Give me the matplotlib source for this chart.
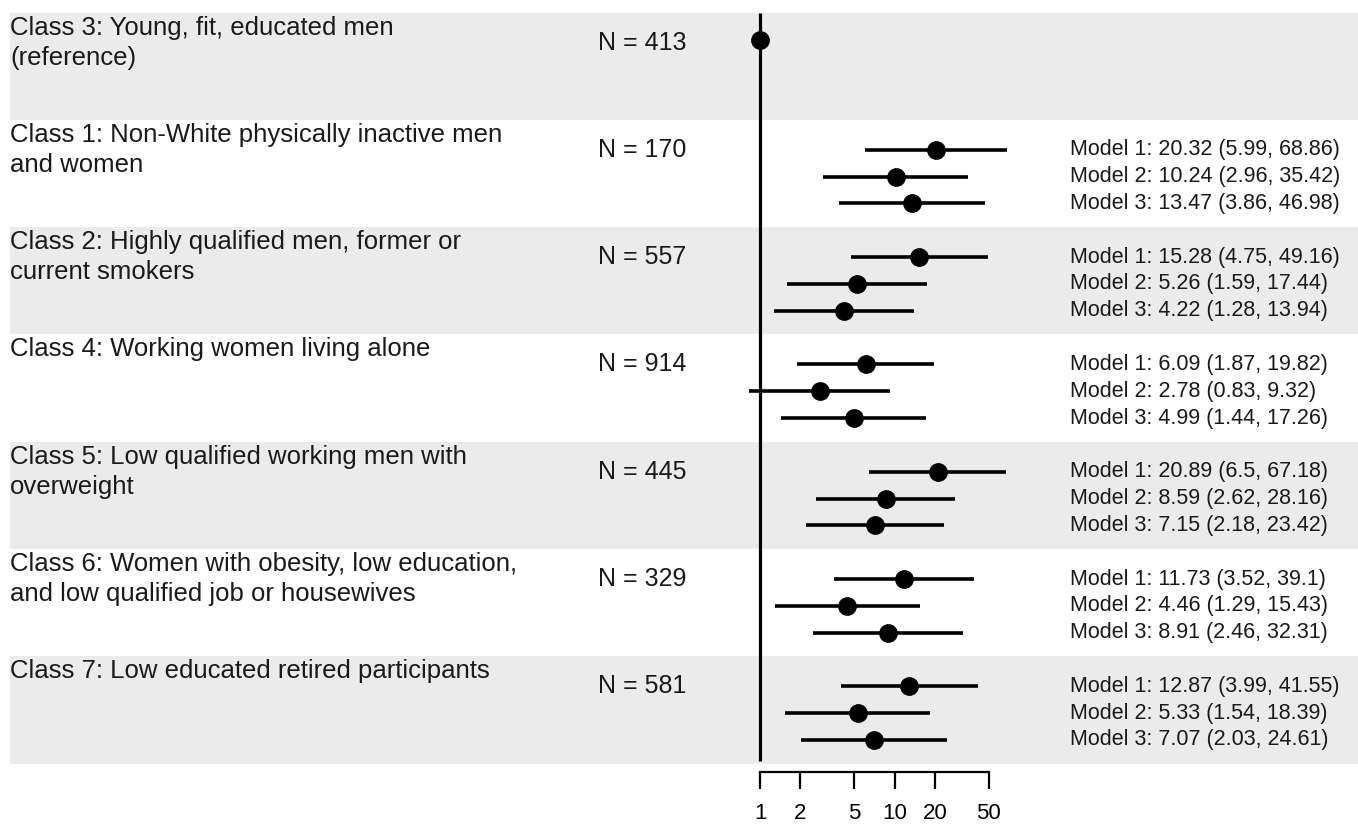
import matplotlib
matplotlib.use("Agg")
import matplotlib.pyplot as plt
import matplotlib.transforms as mtransforms
import numpy as np

plt.rcParams['font.family'] = ['Liberation Sans', 'DejaVu Sans']

# ---------------- data ----------------
class_labels = [
    "Class 3: Young, fit, educated men\n(reference)",
    "Class 1: Non-White physically inactive men\nand women",
    "Class 2: Highly qualified men, former or\ncurrent smokers",
    "Class 4: Working women living alone",
    "Class 5: Low qualified working men with\noverweight",
    "Class 6: Women with obesity, low education,\nand low qualified job or housewives",
    "Class 7: Low educated retired participants",
]
n_values = [413, 170, 557, 914, 445, 329, 581]

reference_or = 1.0

# rows: classes 1,2,4,5,6,7 (index 1..6 in class_labels)
m1_or = [20.32, 15.28, 6.09, 20.89, 11.73, 12.87]
m1_lo = [5.99, 4.75, 1.87, 6.5, 3.52, 3.99]
m1_hi = [68.86, 49.16, 19.82, 67.18, 39.1, 41.55]

m2_or = [10.24, 5.26, 2.78, 8.59, 4.46, 5.33]
m2_lo = [2.96, 1.59, 0.83, 2.62, 1.29, 1.54]
m2_hi = [35.42, 17.44, 9.32, 28.16, 15.43, 18.39]

m3_or = [13.47, 4.22, 4.99, 7.15, 8.91, 7.07]
m3_lo = [3.86, 1.28, 1.44, 2.18, 2.46, 2.03]
m3_hi = [46.98, 13.94, 17.26, 23.42, 32.31, 24.61]

tick_values = [1, 2, 5, 10, 20, 50]
tick_labels = ["1", "2", "5", "10", "20", "50"]

# ---------------- layout ----------------
W, H = 1358, 824
DPI = 100
fig = plt.figure(figsize=(W / DPI, H / DPI), dpi=DPI)
ax = fig.add_axes([0, 0, 1, 1])

band_top_px = 12.5
band_h_px = 107.3
x1_px = 760.0
px_per_decade = 134.5

ax.set_xscale('log')
ax.set_xlim(10 ** ((0 - x1_px) / px_per_decade), 10 ** ((W - x1_px) / px_per_decade))
ax.set_ylim((H - band_top_px) / band_h_px, (0 - band_top_px) / band_h_px)  # inverted

band_color = '#ebebeb'
text_color = '#1a1a1a'
n_rows = len(class_labels)
for i in range(n_rows):
    if i % 2 == 0:
        ax.axhspan(i, i + 1, xmin=10 / W, xmax=1, color=band_color, lw=0, zorder=0)

# vertical reference line
ax.vlines(reference_or, 0, n_rows - 0.02, color='black', lw=2.3, zorder=2)

lw_ci = 2.6
ms = 12.5
# reference point
ax.plot([reference_or], [0.26], 'o', color='black', ms=ms, zorder=3, clip_on=False)

offsets = [0.28, 0.53, 0.78]
models = [(m1_or, m1_lo, m1_hi), (m2_or, m2_lo, m2_hi), (m3_or, m3_lo, m3_hi)]

trans_text = mtransforms.blended_transform_factory(fig.transFigure, ax.transData)

for r in range(len(m1_or)):
    row = r + 1
    for k, (orv, lo, hi) in enumerate(models):
        y = row + offsets[k]
        ax.hlines(y, lo[r], hi[r], color='black', lw=lw_ci, zorder=3)
        ax.plot([orv[r]], [y], 'o', color='black', ms=ms, zorder=4)
        ax.text(1070 / W, y, f"Model {k + 1}: {orv[r]:g} ({lo[r]:g}, {hi[r]:g})",
                transform=trans_text, ha='left', va='center', fontsize=15.5,
                color=text_color)

first_baseline = 22 / band_h_px
line_step = 30 / band_h_px
for i in range(n_rows):
    for j, line in enumerate(class_labels[i].split("\n")):
        ax.text(10 / W, i + first_baseline + j * line_step, line, transform=trans_text,
                ha='left', va='baseline', fontsize=18.5, color=text_color)
    ax.text(598 / W, i + 0.28, f"N = {n_values[i]}", transform=trans_text,
            ha='left', va='center', fontsize=18, color=text_color)

# bottom axis
for s in ['top', 'left', 'right']:
    ax.spines[s].set_visible(False)
ax.spines['bottom'].set_bounds(tick_values[0], tick_values[-1])
ax.spines['bottom'].set_position(('data', (772 - band_top_px) / band_h_px))
ax.spines['bottom'].set_linewidth(1.6)
ax.set_xticks(tick_values)
ax.set_xticklabels(tick_labels)
ax.xaxis.set_minor_locator(matplotlib.ticker.NullLocator())
ax.tick_params(axis='x', direction='out', length=12.5, width=1.6, pad=10,
               labelsize=16, colors='black')
ax.set_yticks([])
ax.patch.set_alpha(0)

fig.savefig("out.png", dpi=DPI, facecolor='white')
